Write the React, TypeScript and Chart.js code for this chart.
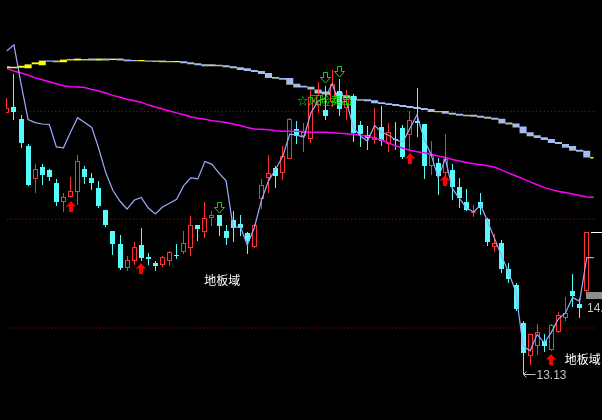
import React, { useEffect, useRef } from 'react';
import { Chart, registerables } from 'chart.js';

Chart.register(...registerables);

// ---- Daily candles (price) ----
const candleOpen = [15.82,15.88,15.76,15.48,15.14,15.26,15.23,15.10,14.90,14.95, 15.01,15.24,15.15,15.05,14.82,14.60,14.47,14.22,14.30,14.46, 14.335,14.27,14.25,14.30,14.36,14.39,14.43,14.67,14.59,14.74, 14.77,14.60,14.72,14.68,14.58,14.44,14.93,15.15,15.25,15.20, 15.35,15.65,15.58,15.55,15.90,15.85,15.93,16.04,15.87,15.99, 15.70,15.59,15.54,15.67,15.50,15.555,15.66,15.59,15.74,15.71, 15.27,15.30,15.20,15.23,15.06,14.90,14.785,14.90,14.73,14.44, 14.48,14.21,14.05,13.66,13.32,13.42,13.47,13.38,13.56,13.71, 13.99,13.85,13.99];
const candleHigh = [15.97,16.22,15.80,15.50,15.29,15.29,15.24,15.14,15.00,15.16, 15.39,15.27,15.20,15.12,14.82,14.60,14.56,14.35,14.49,14.63, 14.38,14.30,14.35,14.40,14.47,14.60,14.76,14.67,14.90,14.81, 14.77,14.67,14.81,14.77,14.59,14.68,15.14,15.39,15.27,15.48, 15.77,15.74,15.72,16.06,16.14,16.10,16.26,16.17,16.06,16.01, 15.74,15.68,15.87,15.89,15.72,15.73,15.69,15.84,16.08,15.71, 15.53,15.36,15.60,15.29,15.15,15.04,14.87,15.00,14.74,14.57, 14.51,14.27,14.07,13.68,13.54,13.65,13.54,13.65,13.77,13.92, 14.16,13.91,14.59];
const candleLow = [15.82,15.75,15.46,15.07,14.99,15.08,15.12,14.86,14.80,14.94, 14.87,15.09,15.03,14.84,14.65,14.36,14.20,14.19,14.25,14.30, 14.25,14.19,14.23,14.24,14.32,14.37,14.35,14.50,14.53,14.66, 14.55,14.46,14.49,14.55,14.37,14.43,14.83,14.99,15.05,15.13, 15.34,15.50,15.42,15.51,15.82,15.75,15.88,15.79,15.75,15.52, 15.47,15.44,15.50,15.48,15.42,15.44,15.35,15.44,15.57,15.14, 15.18,14.97,15.15,14.92,14.84,14.81,14.75,14.77,14.45,14.39, 14.17,14.07,13.78,13.13,13.22,13.33,13.36,13.37,13.55,13.68, 13.82,13.71,13.97];
const candleClose = [15.87,15.83,15.51,15.08,15.24,15.18,15.16,14.90,14.95,15.02, 15.32,15.16,15.10,14.86,14.67,14.47,14.22,14.31,14.44,14.33, 14.32,14.24,14.34,14.39,14.345,14.48,14.67,14.62,14.74,14.77, 14.66,14.53,14.63,14.63,14.50,14.67,15.08,15.20,15.17,15.38, 15.76,15.58,15.62,15.98,16.00,15.79,16.12,15.86,15.96,15.61, 15.60,15.56,15.57,15.53,15.62,15.545,15.37,15.75,15.715,15.27, 15.39,15.17,15.34,15.06,14.94,14.82,14.80,14.84,14.49,14.48, 14.21,14.11,13.80,13.35,13.54,13.56,13.42,13.64,13.74,13.76, 13.93,13.81,14.59];

// ---- Upper band (two stepped lines) ----
const bandA = [16.28,16.28,16.285,16.28,16.32,16.31,16.36,16.36,16.34,16.375, 16.36,16.375,16.38,16.36,16.38,16.365,16.38,16.37,16.365,16.35, 16.36,16.345,16.36,16.355,16.34,16.35,16.34,16.33,16.32,16.32, 16.315,16.31,16.30,16.29,16.28,16.26,16.25,16.23,16.19,16.18, 16.18,16.12,16.10,16.09,16.06,16.04,16.04,16.03,16.00,15.99, 15.96,15.96,15.95,15.93,15.92,15.91,15.90,15.89,15.88,15.87, 15.86,15.84,15.84,15.82,15.81,15.80,15.80,15.79,15.78,15.77, 15.76,15.72,15.71,15.68,15.62,15.59,15.57,15.55,15.52,15.50, 15.48,15.44,15.43,15.35];
const bandB = [16.30,16.295,16.305,16.32,16.34,16.36,16.345,16.34,16.37,16.36, 16.38,16.36,16.36,16.38,16.36,16.38,16.36,16.35,16.35,16.365, 16.345,16.36,16.34,16.34,16.355,16.33,16.32,16.31,16.30,16.30, 16.30,16.29,16.28,16.26,16.25,16.24,16.22,16.18,16.17,16.16, 16.11,16.08,16.08,16.06,16.02,16.01,16.00,15.99,15.97,15.95, 15.945,15.94,15.92,15.91,15.90,15.89,15.88,15.87,15.86,15.85, 15.83,15.825,15.81,15.80,15.79,15.785,15.78,15.77,15.76,15.75, 15.71,15.70,15.67,15.61,15.58,15.56,15.54,15.51,15.50,15.46, 15.43,15.42,15.36,15.365];

// ---- Indicator lines ----
const fastLine = [16.46,16.52,16.12,15.75,15.72,15.705,15.70,15.47,15.46,15.62, 15.77,15.72,15.67,15.45,15.20,15.02,14.91,14.83,14.92,14.95, 14.84,14.78,14.85,14.89,14.93,15.07,15.15,15.14,15.32,15.29, 15.20,15.12,14.64,14.65,14.46,14.64,14.92,15.12,15.24,15.37, 15.60,15.59,15.57,15.82,15.94,15.97,16.12,15.92,15.94,15.67, 15.58,15.53,15.69,15.62,15.59,15.54,15.52,15.66,15.80,15.55, 15.39,15.15,15.35,15.04,14.94,14.84,14.80,14.87,14.70,14.52, 14.34,14.17,13.97,13.42,13.37,13.54,13.45,13.56,13.70,13.76, 13.92,13.88,14.33,14.33];
const slowLine = [16.275,16.25,16.23,16.21,16.18,16.16,16.14,16.12,16.10,16.09, 16.085,16.08,16.06,16.045,16.025,16.00,15.98,15.96,15.945,15.93, 15.90,15.88,15.86,15.84,15.82,15.80,15.78,15.765,15.755,15.74, 15.73,15.72,15.705,15.69,15.67,15.655,15.65,15.645,15.635,15.63, 15.63,15.63,15.625,15.62,15.62,15.62,15.615,15.61,15.605,15.60, 15.59,15.58,15.56,15.54,15.51,15.48,15.455,15.435,15.42,15.41, 15.395,15.375,15.36,15.34,15.325,15.31,15.295,15.285,15.275,15.26, 15.23,15.20,15.17,15.14,15.11,15.08,15.05,15.03,15.01,15.00, 14.985,14.97,14.955,14.95];

const refLevels = [15.835, 14.725, 13.605];

// ---- Signals ----
const buyIndex = [9, 19, 57, 62, 77];
const buyPrice = [14.855, 14.215, 15.355, 15.125, 13.285];
const sellIndex = [30, 45, 47];
const sellPrice = [14.845, 16.175, 16.245];

const floorText = '地板域';
const floorIndex = [27.9, 78.9];
const floorPrice = [14.10, 13.28];
const signalText = '☆风险卖出';
const signalIndex = 41.05;
const signalPrice = 15.94;
const sideMarkTop = 13.98;
const sideMarkBottom = 13.90;
const sideLabel = '14.00';
const sideLabelPrice = 13.805;

const RED = '#ff3232';
const CYAN = '#54fcfc';

function makeUpArrow(color: string) {
  const c = document.createElement('canvas');
  c.width = 10; c.height = 11;
  const g = c.getContext('2d')!;
  g.fillStyle = color;
  g.beginPath(); g.moveTo(5, 0); g.lineTo(10, 5.5); g.lineTo(0, 5.5); g.closePath(); g.fill();
  g.fillRect(3, 5, 4, 6);
  return c;
}
function makeDownArrow(color: string) {
  const c = document.createElement('canvas');
  c.width = 11; c.height = 12;
  const g = c.getContext('2d')!;
  g.strokeStyle = color; g.lineWidth = 1;
  g.beginPath();
  g.moveTo(3.5, 0.5); g.lineTo(7.5, 0.5); g.lineTo(7.5, 5.5); g.lineTo(10.5, 5.5);
  g.lineTo(5.5, 11); g.lineTo(0.5, 5.5); g.lineTo(3.5, 5.5); g.closePath();
  g.stroke();
  return c;
}

export default function App() {
  const ref = useRef<HTMLCanvasElement>(null);
  useEffect(() => {
    document.body.style.margin = '0';
    document.body.style.background = '#000';
    const canvas = ref.current!;
    const idx = candleOpen.map((_, i) => i);
    const up = idx.map((i) => candleClose[i] >= candleOpen[i]);
    const lastX = bandA.length - 1 + 0.3;

    // snap bar and marker elements to whole pixels for crisp candles
    const snap = {
      id: 'snap',
      afterDatasetsUpdate(chart: any) {
        chart.data.datasets.forEach((ds: any, di: number) => {
          const meta = chart.getDatasetMeta(di);
          if (meta.type === 'bar') {
            meta.data.forEach((el: any) => {
              el.x = Math.floor(el.x) + 0.5;
              el.y = Math.round(el.y);
              el.base = Math.round(el.base);
              if (el.base === el.y) el.base = el.y + 1;
            });
          } else if (meta.type === 'scatter') {
            const odd = ds.snapOdd;
            meta.data.forEach((el: any) => {
              el.x = odd ? Math.floor(el.x) + 0.5 : Math.round(el.x);
              el.y = odd ? Math.round(el.y) : Math.floor(el.y) + 0.5;
            });
          }
        });
      },
    };

    const overlay = {
      id: 'overlay',
      afterDatasetsDraw(chart: any) {
        const { ctx, scales } = chart;
        const x = scales.x, y = scales.y;
        const W = chart.width;
        ctx.save();
        ctx.textBaseline = 'middle';
        ctx.textAlign = 'left';
        ctx.font = '12px "Noto Sans CJK SC", sans-serif';
        ctx.fillStyle = '#ffffff';
        floorIndex.forEach((fi, k) => {
          ctx.fillText(floorText, x.getPixelForValue(fi), y.getPixelForValue(floorPrice[k]));
        });
        ctx.font = '11px "Noto Sans CJK SC", sans-serif';
        ctx.fillStyle = '#00e000';
        ctx.fillText(signalText, x.getPixelForValue(signalIndex), y.getPixelForValue(signalPrice));

        // lowest low annotation
        let li = 0;
        candleLow.forEach((v, i) => { if (v < candleLow[li]) li = i; });
        const px = Math.floor(x.getPixelForValue(li)) + 0.5;
        const py = Math.round(y.getPixelForValue(candleLow[li])) + 0.5;
        ctx.strokeStyle = '#c0c0c0';
        ctx.lineWidth = 1;
        ctx.beginPath();
        ctx.moveTo(px, py); ctx.lineTo(px + 12, py);
        ctx.moveTo(px, py); ctx.lineTo(px + 3, py - 3);
        ctx.moveTo(px, py); ctx.lineTo(px + 3, py + 3);
        ctx.stroke();
        ctx.font = '12px "Liberation Sans", sans-serif';
        ctx.fillStyle = '#c0c0c0';
        ctx.fillText(candleLow[li].toFixed(2), px + 13, py + 1);

        // right side marker
        const bx = Math.round(x.getPixelForValue(81.95));
        const t = Math.round(y.getPixelForValue(sideMarkTop)), b = Math.round(y.getPixelForValue(sideMarkBottom));
        ctx.fillStyle = '#8c8c8c';
        ctx.fillRect(bx, t, W - bx, b - t);
        ctx.fillStyle = '#c8c8c8';
        ctx.fillText(sideLabel, Math.round(x.getPixelForValue(82.0)), y.getPixelForValue(sideLabelPrice));
        const ly = Math.round(y.getPixelForValue(candleClose[candleClose.length - 1])) + 0.5;
        ctx.strokeStyle = '#ffffff';
        ctx.beginPath();
        ctx.moveTo(Math.round(x.getPixelForValue(82.6)), ly); ctx.lineTo(W, ly);
        ctx.stroke();
        ctx.restore();
      },
    };

    const chart = new Chart(canvas, {
      type: 'line',
      data: {
        datasets: [
          ...refLevels.map((lv) => ({
            type: 'line' as const,
            data: [{ x: -1, y: lv }, { x: 85, y: lv }],
            borderColor: '#d00000',
            borderWidth: 1,
            borderDash: [1, 2.7],
            pointRadius: 0,
            fill: false,
            order: 20,
          })),
          {
            type: 'line' as const,
            data: bandA.map((v, i) => ({ x: i, y: v })),
            borderColor: 'rgba(0,0,0,0)',
            borderWidth: 1,
            pointRadius: 0,
            stepped: 'middle' as const,
            fill: { target: '+1', above: '#a4bcf4', below: '#ffff00' },
            order: 15,
          },
          {
            type: 'line' as const,
            data: bandB.map((v, i) => ({ x: i, y: v })),
            borderColor: 'rgba(0,0,0,0)',
            borderWidth: 1,
            pointRadius: 0,
            stepped: 'middle' as const,
            fill: false,
            order: 15,
          },
          {
            type: 'bar' as const,
            data: idx.map((i) => ({ x: i, y: [candleLow[i], candleHigh[i]] })),
            backgroundColor: up.map((u) => (u ? RED : CYAN)),
            borderWidth: 0,
            barThickness: 1,
            grouped: false,
            inflateAmount: 0,
            order: 12,
          },
          {
            type: 'bar' as const,
            data: idx.map((i) => ({ x: i, y: [candleOpen[i], candleClose[i]] })),
            backgroundColor: up.map((u) => (u ? '#000000' : CYAN)),
            borderColor: up.map((u) => (u ? RED : CYAN)),
            borderWidth: up.map((u) => (u ? 1 : 0)),
            borderSkipped: false,
            barThickness: 5,
            grouped: false,
            inflateAmount: 0,
            order: 11,
          },
          {
            type: 'line' as const,
            data: slowLine.map((v, i) => ({ x: Math.min(i, lastX), y: v })),
            borderColor: '#ff00ff',
            borderWidth: 1.5,
            pointRadius: 0,
            fill: false,
            order: 6,
          },
          {
            type: 'line' as const,
            data: fastLine.map((v, i) => ({ x: Math.min(i, lastX), y: v })),
            borderColor: '#9aacff',
            borderWidth: 1.2,
            pointRadius: 0,
            fill: false,
            order: 5,
          },
          {
            type: 'scatter' as const,
            data: buyIndex.map((bi, k) => ({ x: bi, y: buyPrice[k] })),
            pointStyle: makeUpArrow('#ff0000'),
            pointRadius: 5,
            snapOdd: false,
            order: 2,
          },
          {
            type: 'scatter' as const,
            data: sellIndex.map((si, k) => ({ x: si, y: sellPrice[k] })),
            pointStyle: makeDownArrow('#00e000'),
            pointRadius: 5,
            snapOdd: true,
            order: 2,
          },
        ] as any,
      },
      options: {
        responsive: false,
        animation: false,
        devicePixelRatio: 1,
        events: [],
        layout: { padding: 0 },
        plugins: { legend: { display: false }, tooltip: { enabled: false } },
        scales: {
          x: { type: 'linear', display: false, min: -0.125, max: 83.312, offset: false },
          y: { type: 'linear', display: false, min: 12.72, max: 16.92 },
        },
      },
      plugins: [snap, overlay],
    });
    return () => chart.destroy();
  }, []);
  return (
    <div style={{ width: 602, height: 420, background: '#000' }}>
      <canvas ref={ref} width={602} height={420} style={{ display: 'block', background: '#000' }} />
    </div>
  );
}
